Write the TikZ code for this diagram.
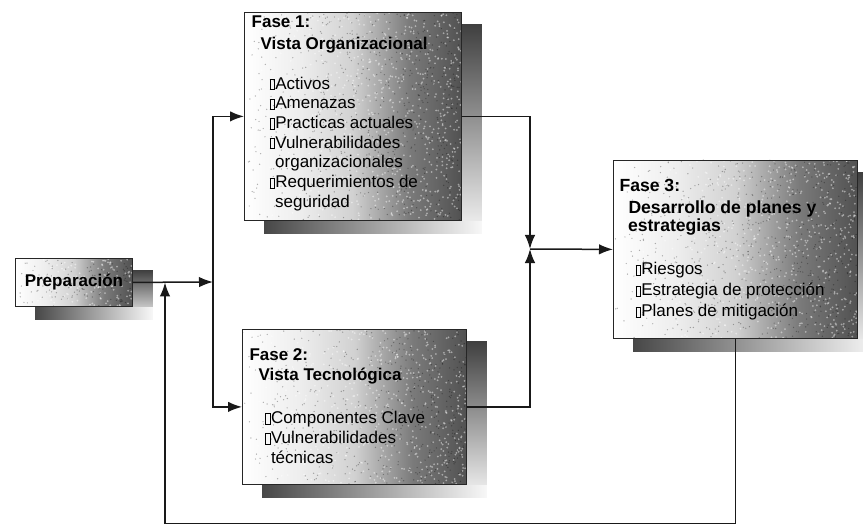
\documentclass[tikz,border=0pt]{standalone}
\usepackage{fontspec}
\setmainfont{Liberation Sans}
\usetikzlibrary{arrows.meta,backgrounds}

% panel fill: light on the left, dark grey on the right
% (TikZ maps the 25bp--75bp band of a shading onto the filled path)
\pgfdeclarehorizontalshading{panelshade}{100bp}{%
  color(0bp)=(white); color(25bp)=(white); color(38bp)=(gray!14);
  color(50bp)=(gray!36); color(63bp)=(black!52); color(75bp)=(black!68);
  color(100bp)=(black!68)}

% small hollow square used as the item bullet
\newcommand\sqbox{{\setlength\fboxsep{0pt}\setlength\fboxrule{0.6pt}\fbox{\rule{0pt}{9.6pt}\hspace{4.2pt}}}\kern0.4pt}

% drop shadow below and to the right of a panel
\newcommand\dropshade[1]{%
  \shade[shadeR] ([xshift=0.4pt,yshift=-12.5pt]#1.north east) rectangle ([xshift=20pt,yshift=-12.5pt]#1.south east);
  \shade[shadeB] ([xshift=20pt,yshift=-0.4pt]#1.south west) rectangle ([xshift=20pt,yshift=-12.5pt]#1.south east);
}

% mottled grain over a panel: left x, top y, width, height, number of specks
\newcommand\grain[5]{%
  \begin{scope}
    \clip (#1,#2) rectangle ++(#3,#4);
    \foreach \k in {1,...,#5}{%
      \pgfmathsetmacro\gx{#1+#3*(rnd^0.45)}%
      \pgfmathsetmacro\gy{#2+#4*rnd}%
      \fill[white, opacity=0.45] (\gx,\gy) circle (1.0);
      \pgfmathsetmacro\hx{#1+#3*(rnd^0.8)}%
      \pgfmathsetmacro\hy{#2+#4*rnd}%
      \fill[black, opacity=0.3] (\hx,\hy) circle (0.7);
    }
  \end{scope}
}

\tikzset{
  panel/.style={draw=black!85, line width=0.8pt, shading=panelshade,
    inner sep=0pt, anchor=north west},
  txt/.style={anchor=north west, inner sep=0pt, align=left},
  shadeR/.style={top color=black!75, bottom color=gray!8},
  shadeB/.style={left color=black!72, right color=gray!6},
  link/.style={line width=1.5pt, draw=black!90},
  arr/.style={link, -{Latex[length=14pt,width=10.5pt]}},
}

\begin{document}
\begin{tikzpicture}[x=1pt, y=-1pt]
\useasboundingbox (0,0) rectangle (863,524);
\pgfmathsetseed{4127}

% panels
\node[panel, minimum width=117pt, minimum height=48pt] (prep) at (15,258) {};
\node[panel, minimum width=217pt, minimum height=208pt] (f1) at (244,12) {};
\node[panel, minimum width=224pt, minimum height=155pt] (f2) at (242,329) {};
\node[panel, minimum width=244pt, minimum height=178pt] (f3) at (613,160) {};

\grain{15}{258}{117}{48}{120}
\grain{244}{12}{217}{208}{650}
\grain{242}{329}{224}{155}{500}
\grain{613}{160}{244}{178}{600}

% redraw the panel outlines over the grain
\foreach \p in {prep,f1,f2,f3}
  \draw[draw=black!85, line width=0.8pt] (\p.north west) rectangle (\p.south east);

\begin{scope}[on background layer]
  \dropshade{prep}
  \dropshade{f1}
  \dropshade{f2}
  \dropshade{f3}
\end{scope}

% panel contents
\node[font=\bfseries\fontsize{17pt}{19pt}\selectfont, inner sep=0pt] (prept) at (prep.center) {Preparación};

\node[txt, font=\fontsize{17pt}{19.7pt}\selectfont] (f1t) at (251.5,14.5) {%
  \rule{0pt}{13pt}\textbf{Fase 1:}\\[2.1pt]
  \hspace*{9pt}\textbf{Vista Organizacional}\\[20pt]
  \hspace*{17.8pt}\sqbox Activos\\
  \hspace*{17.8pt}\sqbox Amenazas\\
  \hspace*{17.8pt}\sqbox Practicas actuales\\
  \hspace*{17.8pt}\sqbox Vulnerabilidades\\
  \hspace*{23.5pt}organizacionales\\
  \hspace*{17.8pt}\sqbox Requerimientos de\\
  \hspace*{23.5pt}seguridad};

\node[txt, font=\fontsize{17pt}{20pt}\selectfont] (f2t) at (249.3,347) {%
  \rule{0pt}{13pt}\textbf{Fase 2:}\\
  \hspace*{9pt}\textbf{Vista Tecnológica}\\[23.3pt]
  \hspace*{15.7pt}\sqbox Componentes Clave\\
  \hspace*{15.7pt}\sqbox Vulnerabilidades\\
  \hspace*{21.5pt}técnicas};

\node[txt, font=\fontsize{17pt}{21pt}\selectfont] (f3t) at (619.3,178.7) {%
  \rule{0pt}{13pt}{\fontsize{17.6pt}{21pt}\selectfont\textbf{Fase 3:}}\\[0.3pt]
  \hspace*{9pt}{\fontsize{17.6pt}{21pt}\selectfont\textbf{Desarrollo de planes y}}\\[-3.2pt]
  \hspace*{8.5pt}{\fontsize{17.6pt}{21pt}\selectfont\textbf{estrategias}}\\[22.7pt]
  \hspace*{16pt}\sqbox Riesgos\\
  \hspace*{16pt}\sqbox Estrategia de protección\\
  \hspace*{16pt}\sqbox Planes de mitigación};

% junction points
\coordinate (split) at (213,282);
\coordinate (join) at (530,249);
\coordinate (fbcorner) at (165,524);

% connectors
\draw[arr] (prep.east) -- (split);
\draw[arr] (split) |- (f1.west);
\draw[arr] (split) |- (f2.west);
\draw[arr] (f1.east) -| (join);
\draw[arr] (f2.east) -| (join);
\draw[arr] (join) -- (f3.west);
\draw[arr] (f3.south) |- (fbcorner) -- (fbcorner |- prep.east);
\end{tikzpicture}
\end{document}
